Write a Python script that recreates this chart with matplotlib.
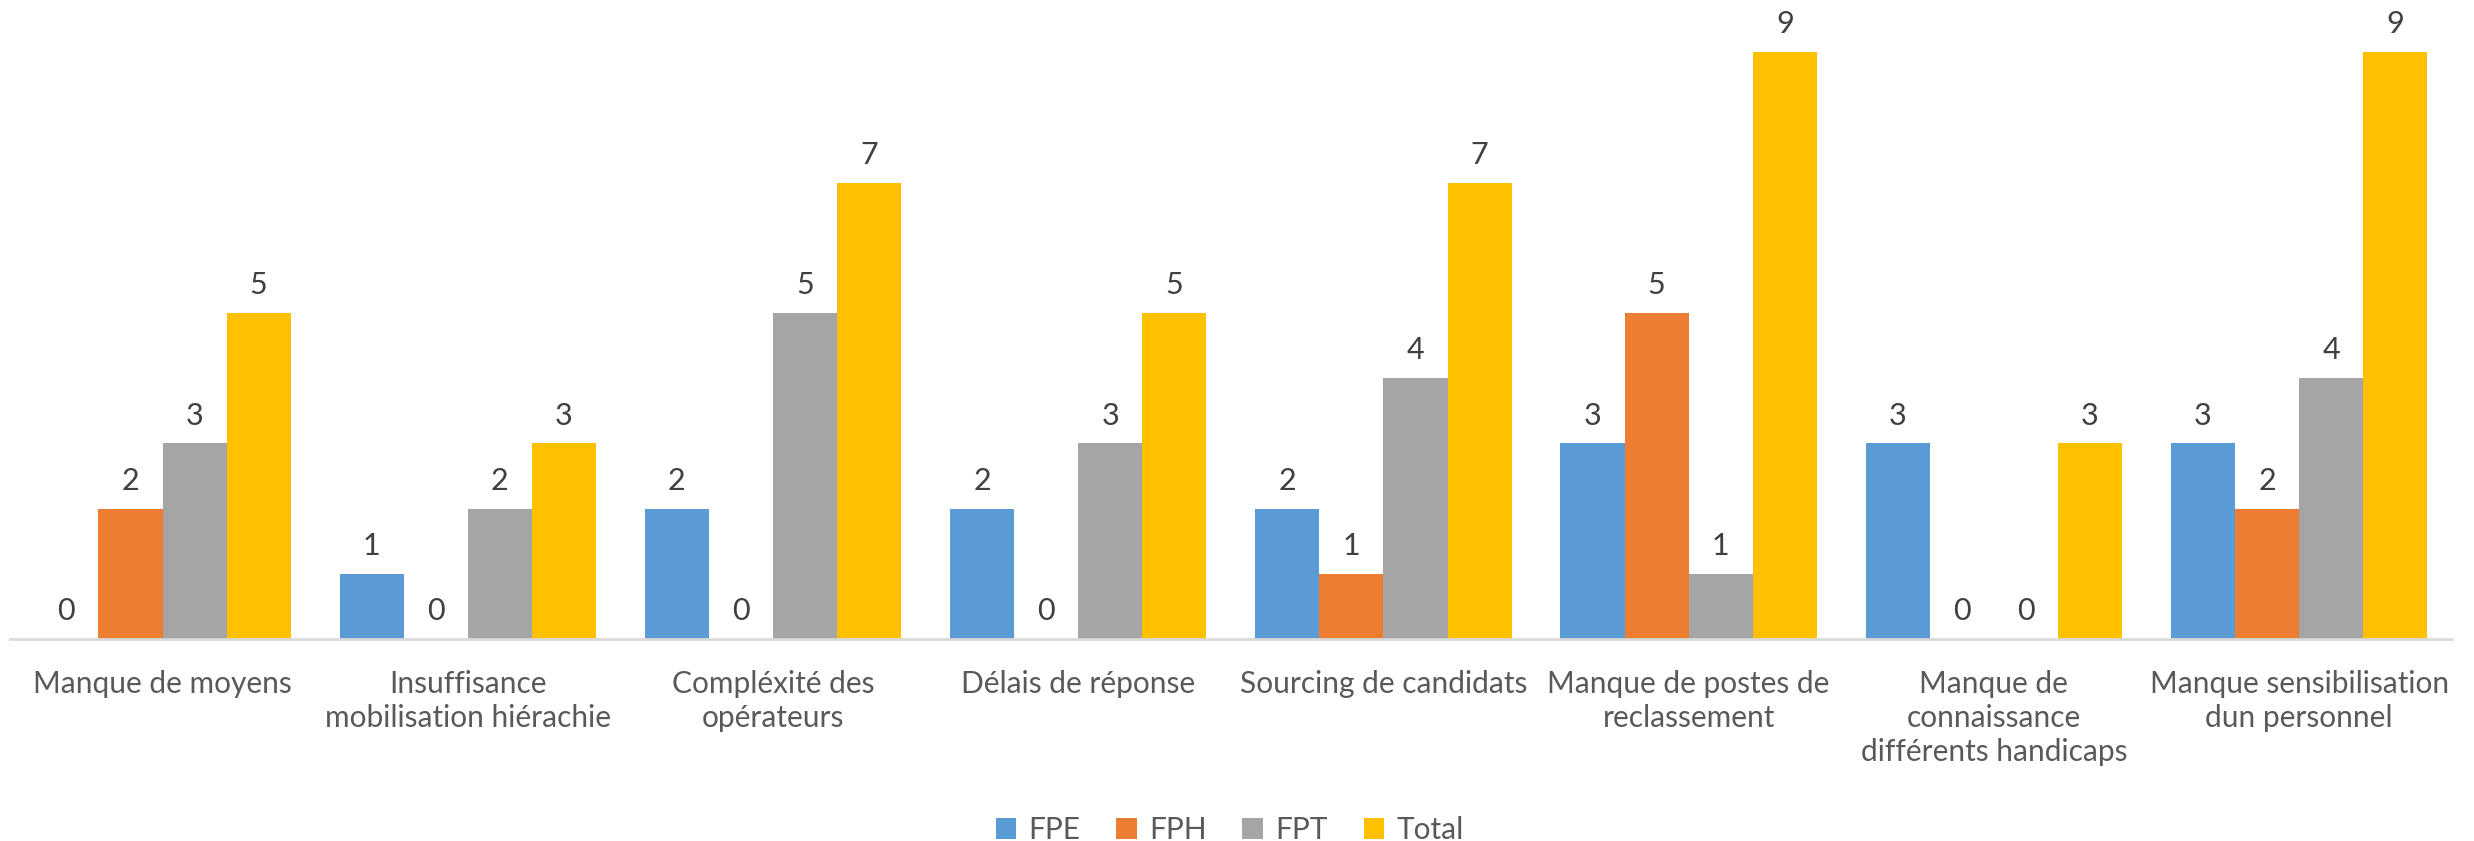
import numpy as np
import matplotlib
matplotlib.use('Agg')
import matplotlib.pyplot as plt

# Données du graphique
categories = ['Manque de moyens', 'Insuffisance\nmobilisation hiérachie', 'Compléxité des\nopérateurs',
              'Délais de réponse', 'Sourcing de candidats', 'Manque de postes de\nreclassement',
              'Manque de\nconnaissance\ndifférents handicaps', 'Manque sensibilisation\ndun personnel']
fpe = [0, 1, 2, 2, 2, 3, 3, 3]
fph = [2, 0, 0, 0, 1, 5, 0, 2]
fpt = [3, 2, 5, 3, 4, 1, 0, 4]
total = [5, 3, 7, 5, 7, 9, 3, 9]
series = ['FPE', 'FPH', 'FPT', 'Total']
couleurs = ['#5B9BD5', '#ED7D31', '#A5A5A5', '#FFC000']

plt.rcParams['font.family'] = ['Lato', 'DejaVu Sans']

fig = plt.figure(figsize=(24.74, 8.41), dpi=100)
ax = fig.add_axes([0.004, 0.24, 0.987, 0.76])

x = np.arange(len(categories))
largeur = 0.21
for i, (nom, valeurs, c) in enumerate(zip(series, [fpe, fph, fpt, total], couleurs)):
    pos = x + (i - 1.5) * largeur
    barres = ax.bar(pos, valeurs, largeur, color=c, label=nom)
    ax.bar_label(barres, padding=10, fontsize=22, color='#404040')

ax.set_xlim(-0.5, len(categories) - 0.5)
ax.set_ylim(0, 9.8)
ax.set_yticks([])
ax.set_xticks(x)
ax.set_xticklabels(categories, fontsize=21.5, color='#595959', linespacing=1.27)
ax.tick_params(axis='x', length=0, pad=22)
for s in ['top', 'right', 'left']:
    ax.spines[s].set_visible(False)
ax.spines['bottom'].set_color('#D9D9D9')
ax.spines['bottom'].set_linewidth(2)

fig.legend(loc='lower center', bbox_to_anchor=(0.497, -0.035), ncol=4, frameon=False,
           fontsize=21.5, handlelength=0.7, handleheight=0.7, handletextpad=0.4, columnspacing=1.2,
           labelcolor='#595959')

plt.savefig('out.png', dpi=100)
